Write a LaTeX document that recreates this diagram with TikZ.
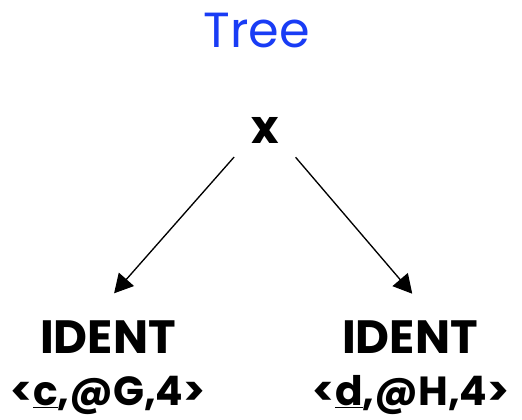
\documentclass[tikz,border=0pt]{standalone}
\usepackage{fontspec}
\setmainfont{Poppins}
\usetikzlibrary{arrows.meta}
\definecolor{treeblue}{RGB}{25,60,245}
\tikzset{every picture/.style={line width=1pt}}

\begin{document}
\begin{tikzpicture}[x=0.75pt,y=0.75pt,yscale=-1,xscale=1,
  txt/.style={inner sep=0pt, anchor=base, font=\fontsize{35}{40}\selectfont\bfseries},
  attr/.style={txt, font=\fontsize{30.5}{36}\selectfont\bfseries},
  edge/.style={-{Triangle[length=14pt,width=15pt]}}]
\useasboundingbox (0,0) rectangle (522,419);

% Title
\node [txt, font=\fontsize{37}{42}\selectfont, text=treeblue] (title) at (256.5,47) {Tree};

% Root
\node [txt] (root) at (265,143) {x};

% Leaves
\node [txt] (lft) at (108,353) {IDENT};
\node [attr] (lftattr) at (108,405) {<\underline{c},@G,4>};
\node [txt] (rgt) at (410,353) {IDENT};
\node [attr] (rgtattr) at (411,405) {<\underline{d},@H,4>};

% Edges
\draw [edge, shorten <=18.75pt, shorten >=26.25pt] (root.210) -- (lft.135);
\draw [edge, shorten <=18.75pt, shorten >=25.5pt] (root.330) -- (rgt.35);

\end{tikzpicture}
\end{document}
